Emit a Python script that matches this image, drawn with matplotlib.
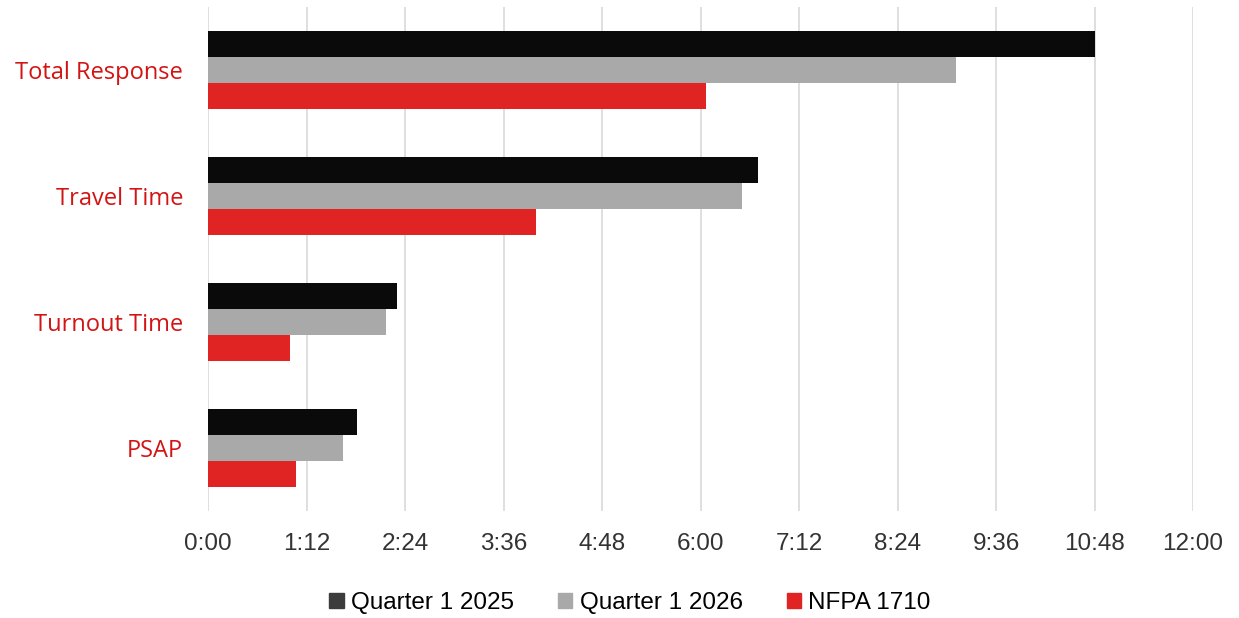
import numpy as np
import matplotlib.pyplot as plt
from matplotlib.ticker import FuncFormatter, MultipleLocator

# response time components, in seconds
categories = ['Total Response', 'Travel Time', 'Turnout Time', 'PSAP']
q1_2025 = [648, 402, 138, 109]
q1_2026 = [547, 390, 130, 99]
nfpa_1710 = [364, 240, 60, 64]

series = [('Quarter 1 2025', q1_2025, '#0a0a0a'),
          ('Quarter 1 2026', q1_2026, '#a9a9a9'),
          ('NFPA 1710', nfpa_1710, '#e02424')]


def mmss(sec, pos=None):
    sec = int(round(sec))
    return '%d:%02d' % (sec // 60, sec % 60)


fig = plt.figure(figsize=(12.39, 6.18), dpi=100)
ax = fig.add_axes([208/1239, 1-511/618, 985/1239, 504/618])

y = np.arange(len(categories))
h = 0.204
for i, (name, vals, col) in enumerate(series):
    ax.barh(y + (i-1)*h, vals, height=h, color=col, label=name, zorder=3)

ax.set_xlim(0, 720)
ax.set_ylim(len(categories)-0.5, -0.5)
ax.xaxis.set_major_locator(MultipleLocator(72))
ax.xaxis.set_major_formatter(FuncFormatter(mmss))
ax.grid(axis='x', color='#d9d9d9', lw=1.2, zorder=0)

ax.set_yticks(y)
ax.set_yticklabels(categories, color='#d21414', fontsize=17, family='Open Sans')
for lab in ax.get_xticklabels():
    lab.set_family('Liberation Sans')
    lab.set_fontsize(17.5)
    lab.set_color('#333333')
ax.tick_params(axis='x', length=0, pad=16)
ax.tick_params(axis='y', length=0, pad=18)
for s in ax.spines.values():
    s.set_visible(False)

handles = [plt.Rectangle((0, 0), 1, 1, color=c) for c in ['#3c3c3c', '#a9a9a9', '#e02424']]
fig.legend(handles, [s[0] for s in series], loc='center', bbox_to_anchor=(630/1239, 1-603/618),
           ncol=3, frameon=False, handlelength=0.6, handleheight=0.6, handletextpad=0.3,
           columnspacing=1.8, prop={'family': 'Liberation Sans', 'size': 17.5})

fig.savefig('out.png', dpi=100)
